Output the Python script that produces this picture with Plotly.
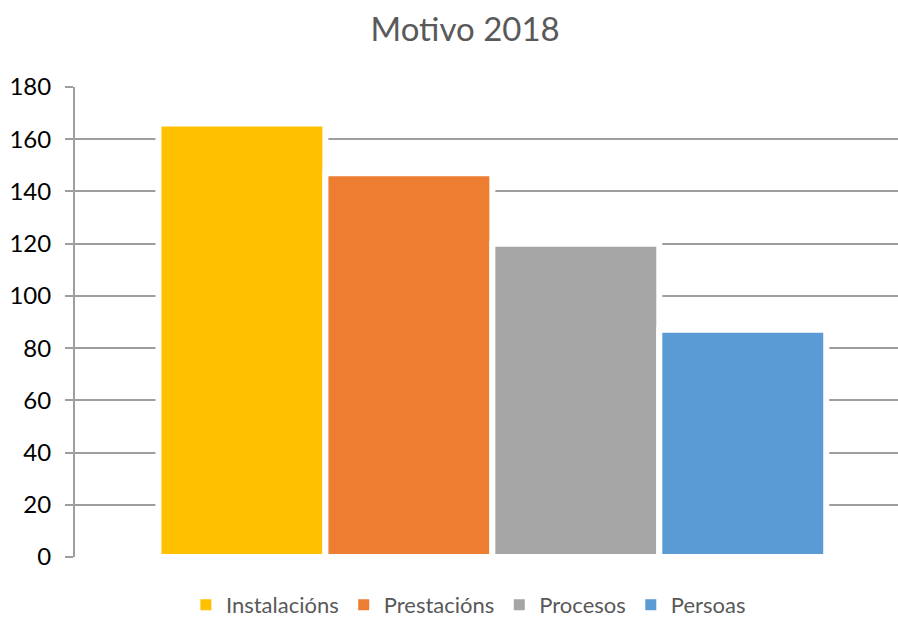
import plotly.graph_objects as go

categories = ["Instalacións", "Prestacións", "Procesos", "Persoas"]
values = [166, 147, 120, 87]
colors = ["#FFC000", "#ED7D31", "#A5A5A5", "#5B9BD5"]
y_ticks = [0, 20, 40, 60, 80, 100, 120, 140, 160, 180]

fig = go.Figure()
for name, v, c in zip(categories, values, colors):
    fig.add_trace(go.Bar(
        x=[""], y=[v], name=name, showlegend=False,
        marker=dict(color=c, line=dict(color="white", width=6)),
    ))
# legend entries (square swatches)
for name, c in zip(categories, colors):
    fig.add_trace(go.Scatter(
        x=[None], y=[None], mode="markers", name=name,
        marker=dict(symbol="square", size=11, color=c),
    ))

grid = "#9e9e9e"
fig.update_layout(
    width=898, height=619,
    margin=dict(l=75, r=0, t=87, b=62, autoexpand=False),
    paper_bgcolor="white", plot_bgcolor="white",
    barmode="group", bargap=0.2, bargroupgap=0,
    title=dict(text="Motivo 2018", x=0.518, xref="container", xanchor="center",
               y=0.952, yref="container", yanchor="middle",
               font=dict(family="Lato", size=33, color="#595959")),
    legend=dict(orientation="h", x=0.478, xanchor="center", y=-0.102, yanchor="middle",
                font=dict(family="Lato", size=22, color="#595959"),
                itemclick=False, traceorder="normal"),
    font=dict(family="Lato"),
)
fig.update_xaxes(type="category", range=[-0.5, 0.486], showgrid=False,
                 showticklabels=False, showline=False, zeroline=False)
fig.update_yaxes(range=[0, 180], tickvals=y_ticks, showgrid=True, gridcolor=grid,
                 gridwidth=2, zeroline=False, showline=True, linecolor=grid, linewidth=2,
                 ticks="outside", ticklen=8, tickcolor=grid, tickwidth=2,
                 ticklabelstandoff=9,
                 tickfont=dict(family="Lato", size=24, color="black"))

fig.write_html("out.html", config={"displayModeBar": False},
               post_script="document.body.style.margin='0px';document.body.style.overflow='hidden';")
